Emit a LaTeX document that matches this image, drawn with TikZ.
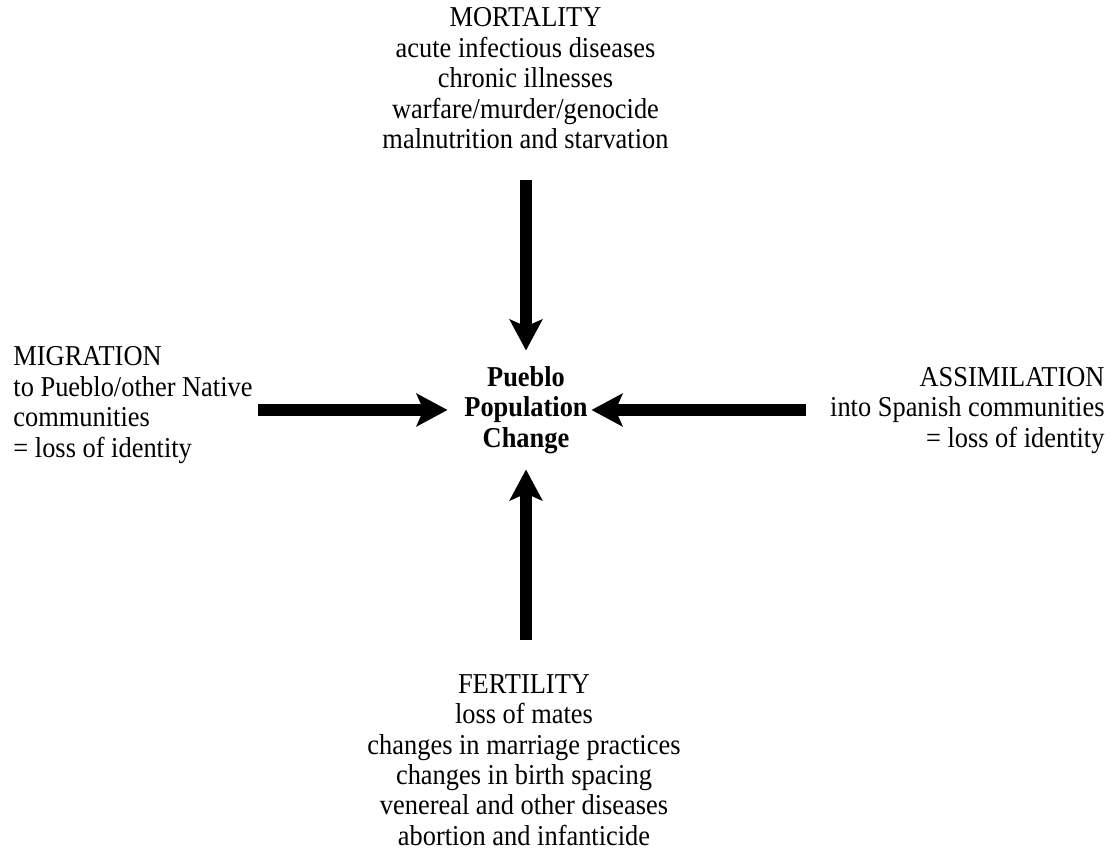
\documentclass[tikz,border=0pt]{standalone}
\usepackage{fontspec}
\setmainfont{Liberation Serif}[FakeStretch=0.917]
\usetikzlibrary{
  positioning,
  arrows.meta,
  calc
}

\begin{document}
\begin{tikzpicture}[
  x=0.4167pt, y=-0.4167pt,
  factor/.style={inner sep=0pt, font=\fontsize{12pt}{12.7pt}\selectfont},
  hub/.style={inner sep=0pt, align=center, minimum width=65pt, minimum height=49.2pt,
              font=\fontsize{12pt}{12.7pt}\selectfont\bfseries},
  push/.style={-{Stealth[length=12.9pt, width=13.6pt, inset=2.9pt]}, line width=4.6pt}
]
  \useasboundingbox (0,0) rectangle (1115,856);

  % Centre
  \node[hub] (pop) at (526, 410) {Pueblo\\Population\\Change};

  % Factors
  \node[factor, align=center] (mort) at (525.5, 78.5) {
    MORTALITY\\
    acute infectious diseases\\
    chronic illnesses\\
    warfare/murder/genocide\\
    malnutrition and starvation
  };

  \node[factor, align=center] (fert) at (524, 760) {
    FERTILITY\\
    loss of mates\\
    changes in marriage practices\\
    changes in birth spacing\\
    venereal and other diseases\\
    abortion and infanticide
  };

  \node[factor, align=left, anchor=west] (migr) at (13, 405) {
    MIGRATION\\
    to Pueblo/other Native\\
    communities\\
    = loss of identity
  };

  \node[factor, align=right, anchor=east] (assim) at (1105, 410.5) {
    ASSIMILATION\\
    into Spanish communities\\
    = loss of identity
  };

  % Arrows
  \draw[push, shorten <=12.5pt] (mort.south -| pop.north) -- (pop.north);
  \draw[push, shorten <=14.2pt] (fert.north -| pop.south) -- (pop.south);
  \draw[push, shorten <=2pt] (migr.east |- pop.west) -- (pop.west);
  \draw[push, shorten <=10pt, shorten >=-5.4pt] (assim.west |- pop.east) -- (pop.east);
\end{tikzpicture}
\end{document}
